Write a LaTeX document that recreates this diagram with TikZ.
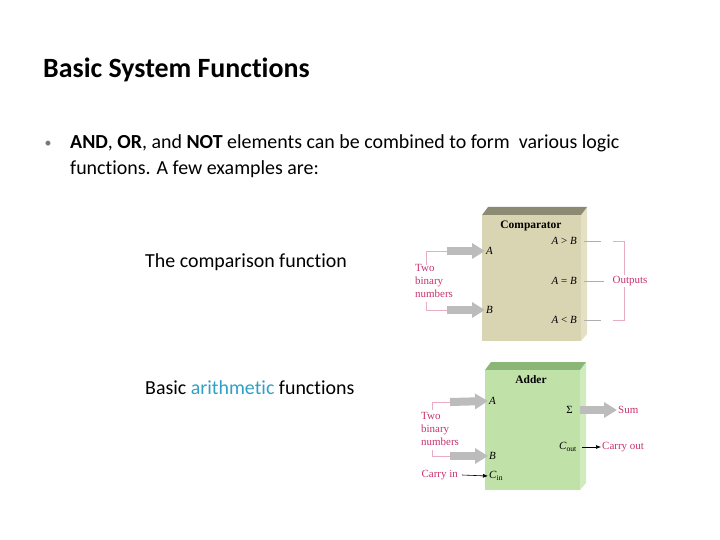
\documentclass[tikz,border=0pt]{standalone}
\usepackage{fontspec}
\setmainfont{Carlito}[Ligatures=CommonOff]
\newfontfamily\figfont{Liberation Serif}
\usetikzlibrary{arrows.meta}
\definecolor{cmpface}{RGB}{217,212,178}
\definecolor{cmptop}{RGB}{140,138,115}
\definecolor{cmpside}{RGB}{228,224,198}
\definecolor{addface}{RGB}{192,226,168}
\definecolor{addtop}{RGB}{138,182,118}
\definecolor{addside}{RGB}{208,236,188}
\definecolor{labelpink}{RGB}{200,50,110}
\definecolor{bracketpink}{RGB}{232,172,196}
\definecolor{fatgray}{RGB}{188,188,188}
\definecolor{linkgray}{RGB}{175,175,175}
\definecolor{arithblue}{RGB}{46,160,200}
\definecolor{bulletgray}{RGB}{120,120,120}

\begin{document}
\begin{tikzpicture}[x=1bp,y=-1bp,
    figtext/.style={inner sep=1bp,font=\figfont\fontsize{11}{13}\selectfont},
    figtitle/.style={inner sep=1bp,font=\figfont\fontsize{11.5}{13}\selectfont\bfseries},
    pinktext/.style={figtext,text=labelpink},
    slidetext/.style={anchor=base west,inner sep=0pt,font=\fontsize{20}{24}\selectfont},
    fatarrow/.style={draw=fatgray,line width=8bp,
      -{Triangle[length=13bp,width=15bp]}},
    pinkline/.style={draw=bracketpink,line width=0.8bp},
    grayline/.style={draw=linkgray,line width=0.8bp},
    thinarrow/.style={draw=black,line width=0.6bp,-{Latex[length=5bp,width=4bp]}}]
    \useasboundingbox (0,0) rectangle (720,540);

    % heading and bullet text
    \node[anchor=base west,inner sep=0pt,font=\fontsize{28}{32}\selectfont\bfseries]
      (title) at (43,78) {Basic System Functions};
    \node[anchor=base,inner sep=0pt,text=bulletgray,font=\fontsize{14}{20}\selectfont]
      (bullet) at (48,148) {\textbullet};
    \node[slidetext] (intro) at (70,149)
      {\textbf{AND}, \textbf{OR}, and \textbf{NOT} elements can be combined to form\ \ various logic};
    \node[slidetext] (introcont) at (70,175)
      {functions. A few examples are:};
    \node[slidetext] (cmpcap) at (145,268) {The comparison function};
    \node[slidetext] (addcap) at (145,394) {Basic \textcolor{arithblue}{arithmetic} functions};

    % comparator block
    \fill[cmpside] (581,215) -- (587,207) -- (587,334) -- (581,341) -- cycle;
    \fill[cmptop] (482,215) -- (488,207) -- (587,207) -- (581,215) -- cycle;
    \fill[cmpface] (482,215) rectangle (581,341);
    \node[figtitle] (cmpname) at (531,226) {Comparator};
    \node[figtext,anchor=west] (cmpA) at (485,251) {\textit{A}};
    \node[figtext,anchor=west] (cmpB) at (485,310) {\textit{B}};
    \node[figtext,anchor=east] (gt) at (578,241) {\textit{A} > \textit{B}};
    \node[figtext,anchor=east] (eq) at (578,281) {\textit{A} = \textit{B}};
    \node[figtext,anchor=east] (lt) at (578,320) {\textit{A} < \textit{B}};

    \node[pinktext,anchor=west,align=left] (cmpnums) at (414,281) {Two\\binary\\numbers};
    \coordinate (cmpAin) at (447,251);
    \coordinate (cmpBin) at (447,310);
    \draw[pinkline] (426,265) |- (cmpAin);
    \draw[pinkline] (426,302) |- (cmpBin);
    \draw[fatarrow] (cmpAin) -- (cmpA.west);
    \draw[fatarrow] (cmpBin) -- (cmpB.west);

    \coordinate (gtout) at (601,241);
    \coordinate (eqout) at (604,281);
    \coordinate (ltout) at (601,320);
    \draw[grayline] ([xshift=6bp]gt.east) -- (gtout);
    \draw[grayline] ([xshift=6bp]eq.east) -- (eqout);
    \draw[grayline] ([xshift=6bp]lt.east) -- (ltout);
    \draw[pinkline] (613,241) -- (624,241) -- (624,320) -- (613,320);
    \node[pinktext,anchor=west,fill=white,inner sep=1.5bp] (outs) at (611,281) {Outputs};

    % adder block
    \fill[addside] (580,370) -- (586,362) -- (586,483) -- (580,490) -- cycle;
    \fill[addtop] (485,370) -- (491,362) -- (586,362) -- (580,370) -- cycle;
    \fill[addface] (485,370) rectangle (580,490);
    \node[figtitle] (addname) at (531,380) {Adder};
    \node[figtext,anchor=west] (addA) at (488,401) {\textit{A}};
    \node[figtext,anchor=west] (addB) at (488,456) {\textit{B}};
    \node[figtext,anchor=west] (cin) at (488,476) {\textit{C}\textsubscript{in}};
    \node[figtext,anchor=east] (sigma) at (574,410) {Σ};
    \node[figtext,anchor=east] (cout) at (578,447) {\textit{C}\textsubscript{out}};

    \node[pinktext,anchor=west,align=left] (addnums) at (420,429) {Two\\binary\\numbers};
    \coordinate (addAin) at (450,402);
    \coordinate (addBin) at (450,456);
    \draw[pinkline] (432,410) |- (addAin);
    \draw[pinkline] (432,450) |- (addBin);
    \draw[fatarrow] (addAin) -- (addA.west);
    \draw[fatarrow] (addBin) -- (addB.west);

    \node[pinktext,anchor=west] (sum) at (617,410) {Sum};
    \draw[fatarrow] ([xshift=6bp]sigma.east) -- (sum.west);
    \node[pinktext,anchor=west] (carryout) at (601,447) {Carry out};
    \draw[thinarrow] ([xshift=4bp]cout.east) -- (carryout.west);
    \node[pinktext,anchor=east] (carryin) at (459,475) {Carry in};
    \draw[thinarrow] ([xshift=3bp]carryin.east) -- (cin.west);
\end{tikzpicture}
\end{document}
